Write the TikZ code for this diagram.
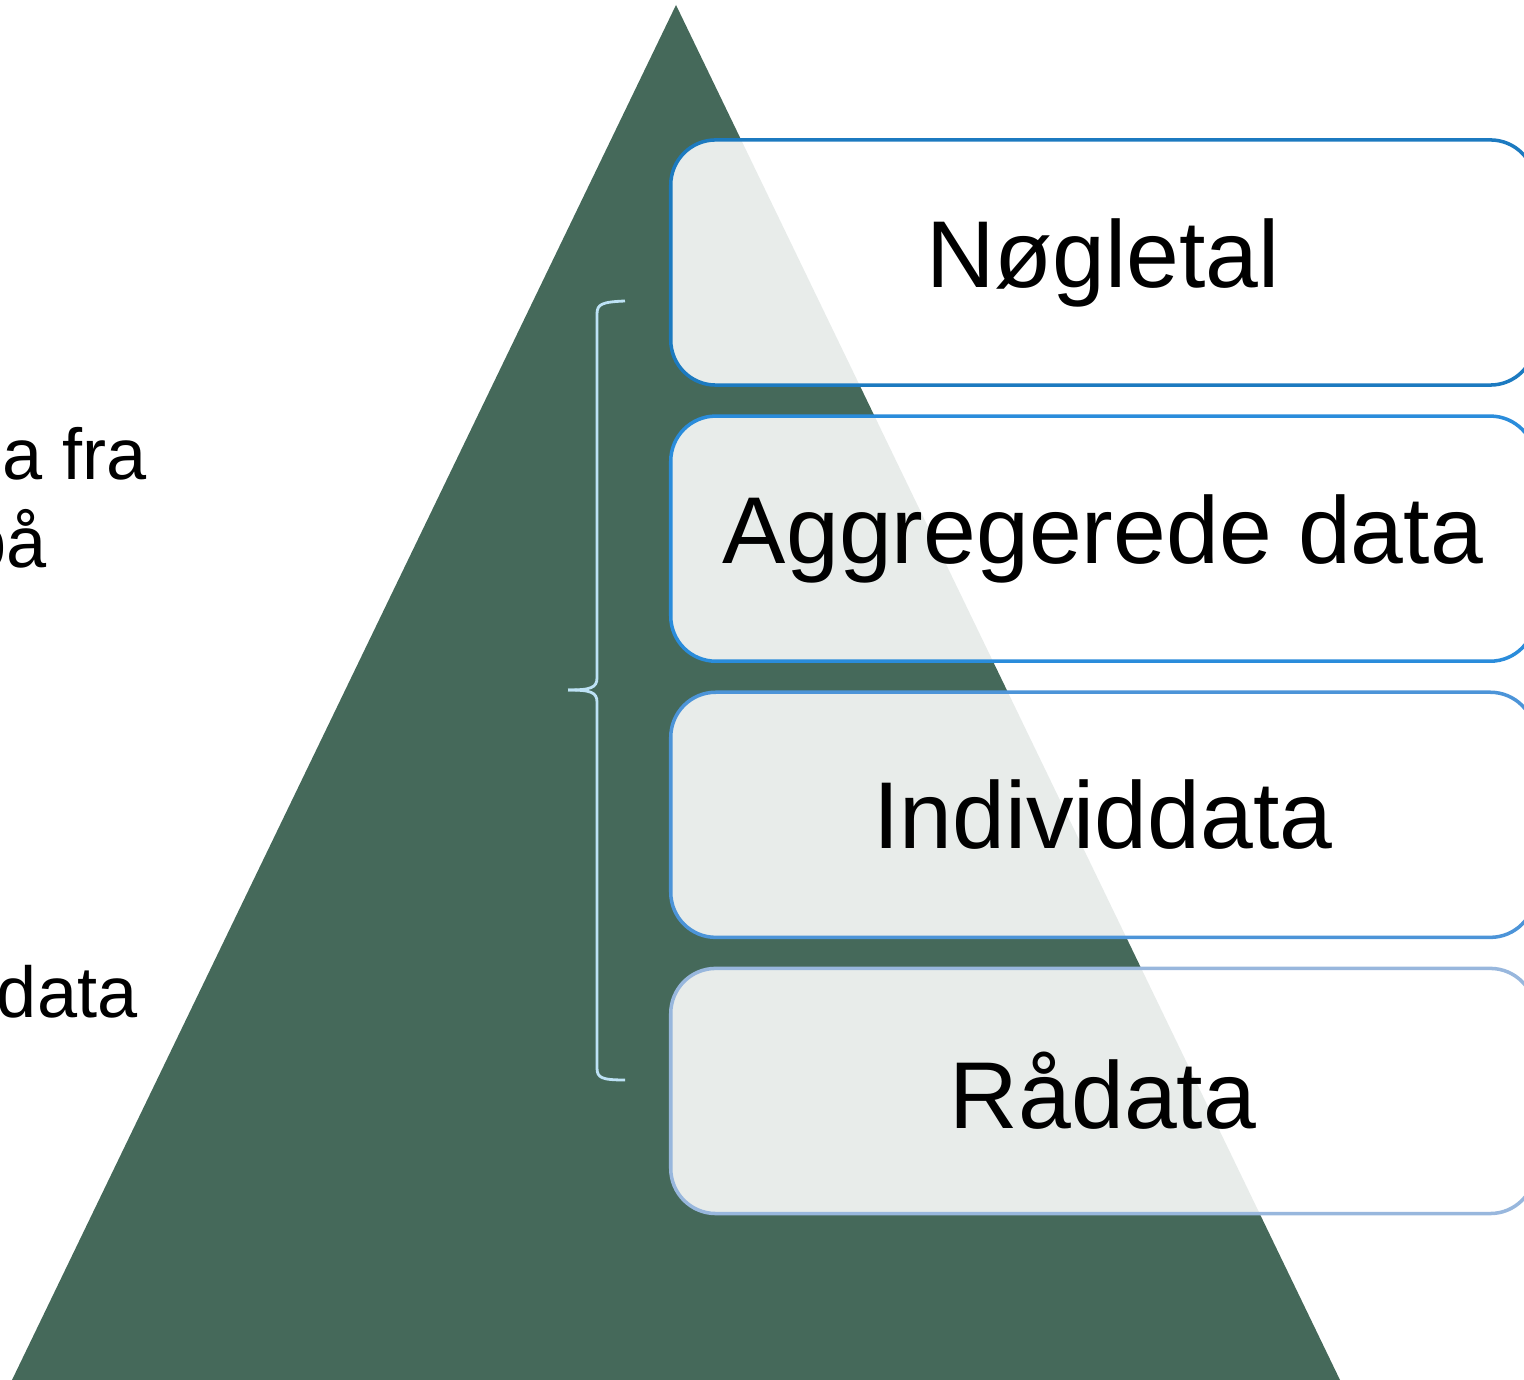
\documentclass[tikz,border=0pt]{standalone}
\usepackage{fontspec}
\setmainfont{Liberation Sans}
\usepackage{tikz}
\usetikzlibrary{positioning}
\definecolor{pyramid}{HTML}{45695A}
\definecolor{lvlA}{HTML}{1C7AC0}
\definecolor{lvlB}{HTML}{2A8CDB}
\definecolor{lvlC}{HTML}{4C94D8}
\definecolor{lvlD}{HTML}{98B7DD}
\definecolor{bracecol}{HTML}{BDE2F5}
\tikzset{
  level/.style={rectangle, rounded corners=0.45cm, line width=1pt, fill=white,
    fill opacity=0.88, text opacity=1, minimum width=8.64cm, minimum height=2.45cm,
    outer sep=0pt, font=\fontsize{27}{32}\selectfont},
  sidetext/.style={inner sep=0pt, font=\fontsize{20.5}{24}\selectfont},
  bracepart/.style={draw=bracecol, line width=0.8pt}
}

\begin{document}
\begin{tikzpicture}[x=0.01cm,y=-0.01cm]
\useasboundingbox (0,0) rectangle (1524,1380);
\clip (0,0) rectangle (1524,1380);
\coordinate (top) at (676,5);
\coordinate (bl) at (12,1380);
\coordinate (br) at (1340,1380);
% draws pyramid
\fill[pyramid] (top) -- (bl) -- (br) -- cycle;
% labels left side
\node[sidetext, anchor=base west] (fra) at (2,480) {a fra};
\node[sidetext, anchor=base east] (paa) at (47,568) {på};
\node[sidetext, anchor=base east] (data) at (138,1018) {data};
% draws brace
\coordinate (bt) at (625,301);
\coordinate (bm) at (568,690);
\coordinate (bb) at (625,1080);
\draw[bracepart] (bt) .. controls (602,302) and (597,304) .. (597,314)
  -- (597,678) .. controls (597,688) and (590,690) .. (bm);
\draw[bracepart] (bm) .. controls (590,690) and (597,692) .. (597,702)
  -- (597,1068) .. controls (597,1078) and (602,1080) .. (bb);
% draws levels
\node[level, draw=lvlA] (nogletal) at (1103,262.5) {Nøgletal};
\node[level, draw=lvlB, below=0.31cm of nogletal] (aggregeret) {Aggregerede data};
\node[level, draw=lvlC, below=0.31cm of aggregeret] (individ) {Individdata};
\node[level, draw=lvlD, below=0.31cm of individ] (raadata) {Rådata};
\end{tikzpicture}
\end{document}
